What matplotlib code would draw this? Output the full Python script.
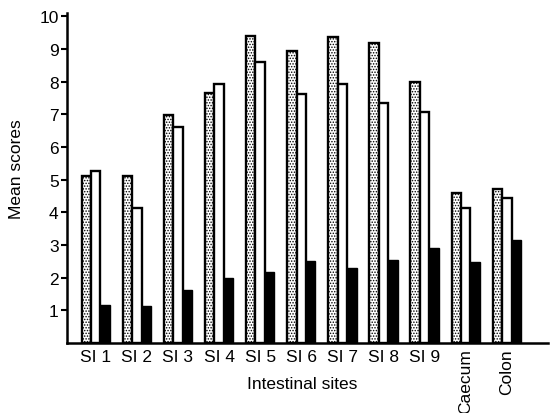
import matplotlib.pyplot as plt
import numpy as np

# Data
sites = ['SI 1', 'SI 2', 'SI 3', 'SI 4', 'SI 5', 'SI 6', 'SI 7', 'SI 8', 'SI 9', 'Caecum', 'Colon']
dotted = [5.1, 5.1, 6.97, 7.64, 9.4, 8.93, 9.36, 9.17, 7.98, 4.59, 4.7]
open_bars = [5.26, 4.13, 6.6, 7.92, 8.6, 7.62, 7.92, 7.34, 7.07, 4.13, 4.43]
black = [1.16, 1.13, 1.62, 1.99, 2.17, 2.51, 2.29, 2.54, 2.9, 2.48, 3.15]
yticks = [1, 2, 3, 4, 5, 6, 7, 8, 9, 10]

plt.rcParams['font.family'] = ['Liberation Sans', 'DejaVu Sans']
plt.rcParams['hatch.linewidth'] = 0.7
plt.rcParams['hatch.color'] = '#444444'

fig = plt.figure(figsize=(5.58, 4.14), dpi=100)
ax = fig.add_axes([0.12, 0.169, 0.862, 0.797])

x = np.arange(len(sites))
w = 0.23

ax.bar(x - w, dotted, w, facecolor='white', edgecolor='black', linewidth=1.7, hatch='......')
ax.bar(x, open_bars, w, facecolor='white', edgecolor='black', linewidth=1.7)
ax.bar(x + w, black, w, facecolor='black', edgecolor='black', linewidth=1.0)

ax.set_xlim(-0.7, 11.0)
ax.set_ylim(0, 10.1)

ax.spines['top'].set_visible(False)
ax.spines['right'].set_visible(False)
ax.spines['left'].set_linewidth(1.8)
ax.spines['bottom'].set_linewidth(1.8)

ax.set_yticks(yticks)
ax.set_yticklabels([str(t) for t in yticks], fontsize=12.5)
ax.tick_params(axis='y', direction='out', length=4, width=1.5, pad=2)

ax.set_xticks(x)
ax.set_xticklabels(sites, fontsize=12.5)
ax.tick_params(axis='x', length=0, pad=4)
for lbl in ax.get_xticklabels()[-2:]:
    lbl.set_rotation(90)
    lbl.set_va('top')

ax.set_xlabel('Intestinal sites', fontsize=12.5)
ax.xaxis.set_label_coords(0.49, -0.10)
ax.set_ylabel('Mean scores', fontsize=12.5)
ax.yaxis.set_label_coords(-0.09, 0.53)

fig.savefig('out.png', dpi=100)
